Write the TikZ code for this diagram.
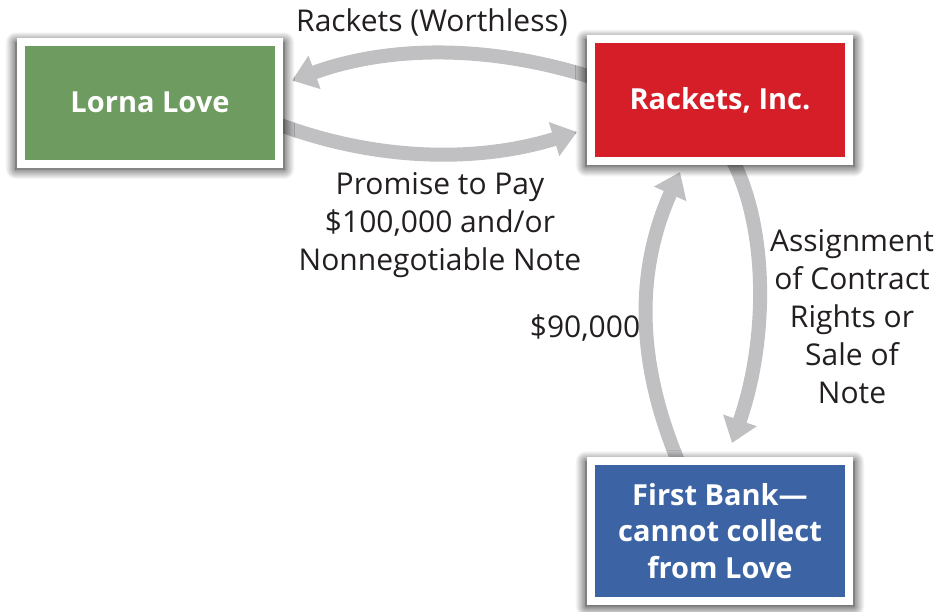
\documentclass[tikz,border=0pt]{standalone}
\usepackage{fontspec}
\setmainfont{Open Sans}
\usetikzlibrary{arrows.meta,calc,shadows.blur,backgrounds}
\definecolor{boxgreen}{RGB}{110,155,96}
\definecolor{boxred}{RGB}{214,30,40}
\definecolor{boxblue}{RGB}{60,100,165}
\definecolor{arrowgray}{RGB}{192,192,194}
\definecolor{txt}{RGB}{35,31,32}
\tikzset{
  party/.style={draw=white, line width=8pt, text=white, align=center,
    font=\fontsize{29}{36.5}\selectfont\bfseries, inner sep=0pt,
    minimum width=258pt,
    blur shadow={shadow xshift=0pt, shadow yshift=-3pt, shadow scale=1.04, shadow blur radius=10pt, shadow opacity=90, shadow blur steps=14}},
  flow/.style={draw=arrowgray, line width=14pt,
    -{Triangle[width=34pt,length=24pt]}},
  lbl/.style={text=txt, align=center, inner sep=0pt,
    font=\fontsize{30}{38}\selectfont}
}
\begin{document}
\begin{tikzpicture}[x=1pt,y=-1pt]
\useasboundingbox (0,0) rectangle (937,611);
% boxes
\node[party, fill=boxgreen, minimum height=122pt] (ll) at (150,102.5) {Lorna Love};
\node[party, fill=boxred, minimum height=122pt] (rk) at (720,100) {Rackets, Inc.};
\node[party, fill=boxblue, minimum height=140pt] (bk) at (720,531) {First Bank---\\cannot collect\\from Love};
% arrows behind the boxes
\begin{pgfonlayer}{background}
\draw[flow] ($(rk.west)+(4,-23)$) .. controls (490,45) and (390,45) .. ($(ll.east)+(9,-22)$);
\draw[flow] ($(ll.east)+(-4,22)$) .. controls (380,162) and (480,162) .. ($(rk.west)+(-10,32)$);
\draw[flow] ($(bk.north)+(-42,4)$) .. controls (636,360) and (636,270) .. ($(rk.south)+(-40,7)$);
\draw[flow] ($(rk.south)+(13,-4)$) .. controls (768,230) and (768,340) .. ($(bk.north)+(12,-14)$);
\end{pgfonlayer}
% labels
\node[lbl] (t1) at (432,22) {Rackets (Worthless)};
\node[lbl] (t2) at (440,225) {Promise to Pay\\\$100,000 and/or\\Nonnegotiable Note};
\node[lbl] (t3) at (585,328) {\$90,000};
\node[lbl] (t4) at (852,317) {Assignment\\of Contract\\Rights or\\Sale of\\Note};
\end{tikzpicture}
\end{document}
